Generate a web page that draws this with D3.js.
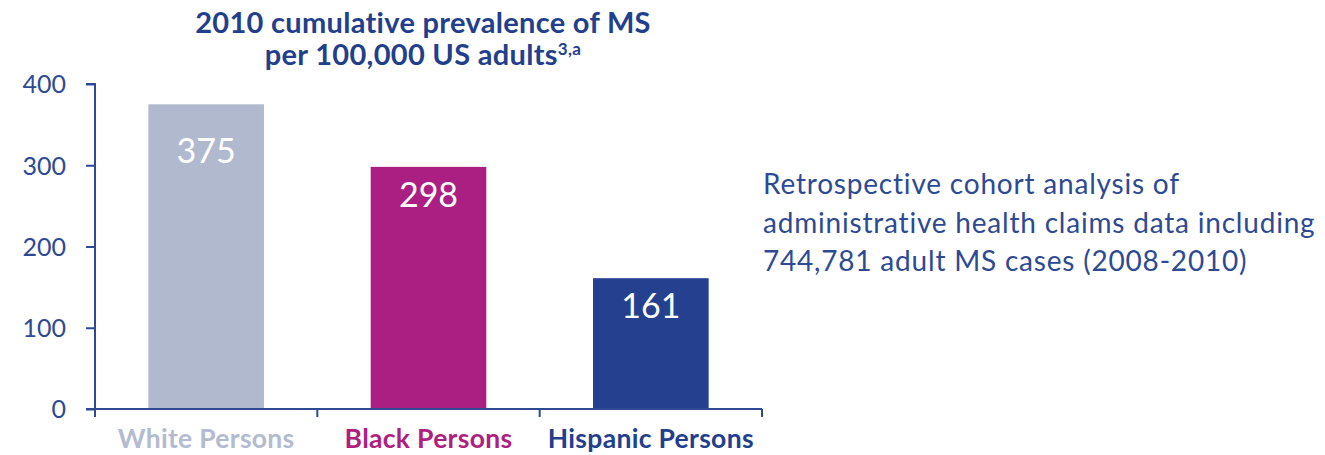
<!DOCTYPE html>
<html>
<head>
<meta charset="utf-8">
<script src="https://cdn.jsdelivr.net/npm/d3@7"></script>
<style>
  body { margin: 0; background: #fff; }
  text { font-family: Lato, "Open Sans", sans-serif; }
</style>
</head>
<body>
<div id="chart"></div>
<script>
var categories = ["White Persons", "Black Persons", "Hispanic Persons"];
var values = [375, 298, 161];
var barColors = ["#b1b9cf", "#ab1f82", "#25408f"];
var labelColors = ["#b3bbd0", "#ae1f80", "#233f8c"];
var yTicks = [0, 100, 200, 300, 400];
var noteLines = ["Retrospective cohort analysis of",
                 "administrative health claims data including",
                 "744,781 adult MS cases (2008-2010)"];

var width = 1325, height = 455;
var margin = {top: 84, left: 95, bottom: 46};
var plotW = 762 - margin.left;
var plotH = height - margin.bottom - margin.top;
var axisColor = "#2d4a93";

var svg = d3.select("#chart").append("svg")
    .attr("width", width)
    .attr("height", height);

var g = svg.append("g")
    .attr("transform", "translate(" + margin.left + "," + margin.top + ")");

var x = d3.scaleBand()
  .domain(categories)
  .range([0, plotW])
  .paddingInner(0.48)
  .paddingOuter(0.24);

var y = d3.scaleLinear()
  .domain([0, 400])
  .range([plotH, 0]);

// bars
g.selectAll("rect.bar").data(values)
  .enter().append("rect")
  .attr("class", "bar")
  .attr("x", function(d, i) { return x(categories[i]); })
  .attr("y", function(d) { return y(d); })
  .attr("width", x.bandwidth())
  .attr("height", function(d) { return plotH - y(d); })
  .attr("fill", function(d, i) { return barColors[i]; });

// value labels: tall bars keep their label a bit lower, like the original
g.selectAll("text.val").data(values)
  .enter().append("text")
  .attr("class", "val")
  .attr("x", function(d, i) { return x(categories[i]) + x.bandwidth() / 2; })
  .attr("y", function(d) { return Math.max(y(d), y(352)) + 40; })
  .attr("text-anchor", "middle")
  .attr("fill", "#fff")
  .style("font-size", "34px")
  .text(function(d) { return d; });

// y axis
var yAxis = d3.axisLeft(y).tickValues(yTicks).tickSize(9).tickPadding(20);
var ya = g.append("g").call(yAxis);
ya.select(".domain").attr("stroke", axisColor).attr("stroke-width", 2)
  .attr("d", "M-9,0H0V" + plotH);
ya.selectAll(".tick line").attr("stroke", axisColor).attr("stroke-width", 2);
ya.selectAll(".tick text").attr("fill", axisColor).style("font-size", "25px")
  .attr("dy", "0.35em");

// x axis, ticks on band edges
var xa = g.append("g").attr("transform", "translate(0," + plotH + ")");
xa.append("line")
  .attr("x1", -9).attr("x2", plotW)
  .attr("stroke", axisColor).attr("stroke-width", 2);
var edges = categories.map(function(c) { return x(c) - x.step() * x.paddingInner() / 2; });
edges.push(plotW);
edges[0] = 0;
xa.selectAll("line.tk").data(edges)
  .enter().append("line")
  .attr("class", "tk")
  .attr("x1", function(d) { return d; }).attr("x2", function(d) { return d; })
  .attr("y1", 0).attr("y2", 8)
  .attr("stroke", axisColor).attr("stroke-width", 2);

xa.selectAll("text.cat").data(categories)
  .enter().append("text")
  .attr("class", "cat")
  .attr("x", function(d) { return x(d) + x.bandwidth() / 2; })
  .attr("y", 39)
  .attr("text-anchor", "middle")
  .attr("fill", function(d, i) { return labelColors[i]; })
  .style("font-size", "26.5px")
  .style("letter-spacing", "0.3px")
  .style("font-weight", "bold")
  .text(function(d) { return d; });

// title
var title = svg.append("text")
  .attr("text-anchor", "middle")
  .attr("fill", "#233f8c")
  .style("font-size", "29px")
  .style("letter-spacing", "0.3px")
  .style("font-weight", "bold");
title.append("tspan").attr("x", 423).attr("y", 33).text("2010 cumulative prevalence of MS");
title.append("tspan").attr("x", 423).attr("y", 65).text("per 100,000 US adults");
title.append("tspan").attr("dy", -10).style("font-size", "17px").text("3,a");

// note on the right
svg.append("g").selectAll("text").data(noteLines)
  .enter().append("text")
  .attr("x", 763)
  .attr("y", function(d, i) { return 194 + i * 38.5; })
  .attr("fill", "#2d4a93")
  .style("font-size", "28px")
  .style("letter-spacing", "0.8px")
  .text(function(d) { return d; });
</script>
</body>
</html>
